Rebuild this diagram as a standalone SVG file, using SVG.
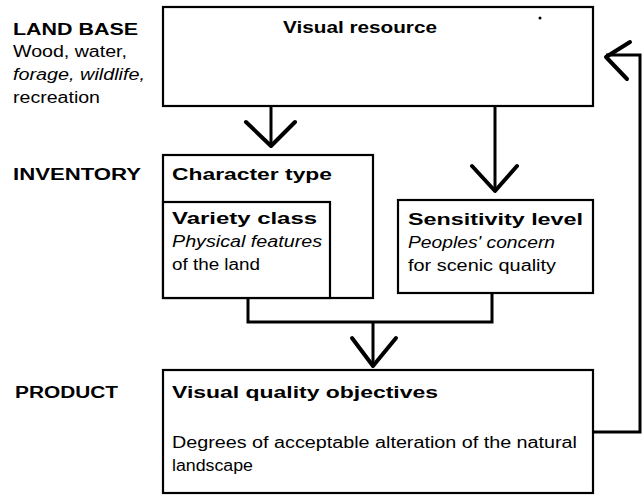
<svg xmlns="http://www.w3.org/2000/svg" width="644" height="498" viewBox="0 0 644 498">
<style>
.box{fill:#fff;stroke:#000;stroke-width:2.2}
.t{font-family:"Liberation Sans",Arial,sans-serif;font-size:16px;fill:#000}
.b{font-weight:bold}
.i{font-style:italic}
.ln{fill:none;stroke:#000;stroke-width:3}
.ah{fill:none;stroke:#000;stroke-width:4;stroke-linecap:round;stroke-linejoin:round}
</style>
<rect width="644" height="498" fill="#fff"/>
<g id="labels">
<text class="t b" x="13" y="35" textLength="125" lengthAdjust="spacingAndGlyphs">LAND BASE</text>
<text class="t" x="13" y="57" textLength="114" lengthAdjust="spacingAndGlyphs">Wood, water,</text>
<text class="t i" x="13" y="80" textLength="132" lengthAdjust="spacingAndGlyphs">forage, wildlife,</text>
<text class="t" x="13" y="103" textLength="87" lengthAdjust="spacingAndGlyphs">recreation</text>
<text class="t b" x="13" y="180" textLength="128" lengthAdjust="spacingAndGlyphs">INVENTORY</text>
<text class="t b" x="15" y="398" textLength="103" lengthAdjust="spacingAndGlyphs">PRODUCT</text>
</g>
<g id="visual-resource">
<rect class="box" x="163" y="7" width="430" height="99"/>
<text class="t b" x="283" y="33" textLength="154" lengthAdjust="spacingAndGlyphs">Visual resource</text>
<circle cx="540" cy="18" r="1.5" fill="#000"/>
</g>
<g id="character-type">
<rect class="box" x="163" y="155" width="210" height="143"/>
<text class="t b" x="172" y="180" textLength="160" lengthAdjust="spacingAndGlyphs">Character type</text>
</g>
<g id="variety-class">
<rect class="box" x="163" y="202" width="167" height="96"/>
<text class="t b" x="172" y="224" textLength="145" lengthAdjust="spacingAndGlyphs">Variety class</text>
<text class="t i" x="172" y="247" textLength="150" lengthAdjust="spacingAndGlyphs">Physical features</text>
<text class="t" x="172" y="270" textLength="88" lengthAdjust="spacingAndGlyphs">of the land</text>
</g>
<g id="sensitivity-level">
<rect class="box" x="398" y="200" width="195" height="93"/>
<text class="t b" x="408" y="225" textLength="175" lengthAdjust="spacingAndGlyphs">Sensitivity level</text>
<text class="t i" x="408" y="248" textLength="147" lengthAdjust="spacingAndGlyphs">Peoples' concern</text>
<text class="t" x="408" y="271" textLength="148" lengthAdjust="spacingAndGlyphs">for scenic quality</text>
</g>
<g id="visual-quality-objectives">
<rect class="box" x="163" y="370" width="430" height="123"/>
<text class="t b" x="172" y="398" textLength="266" lengthAdjust="spacingAndGlyphs">Visual quality objectives</text>
<text class="t" x="172" y="448" textLength="405" lengthAdjust="spacingAndGlyphs">Degrees of acceptable alteration of the natural</text>
<text class="t" x="172" y="471" textLength="81" lengthAdjust="spacingAndGlyphs">landscape</text>
</g>
<g id="connectors">
<path class="ln" d="M271 106V146"/>
<path class="ah" d="M246 122L271 146L295 122"/>
<path class="ln" d="M495 106V191"/>
<path class="ah" d="M472 166L495 191L517 166"/>
<path class="ln" d="M248 298V322H492V293"/>
<path class="ln" d="M373 322V367"/>
<path class="ah" d="M352 338L373 366L396 338"/>
<path class="ln" d="M593 432H640V55H606"/>
<path class="ah" d="M630 42L606 57L627 79"/>
</g>
</svg>
